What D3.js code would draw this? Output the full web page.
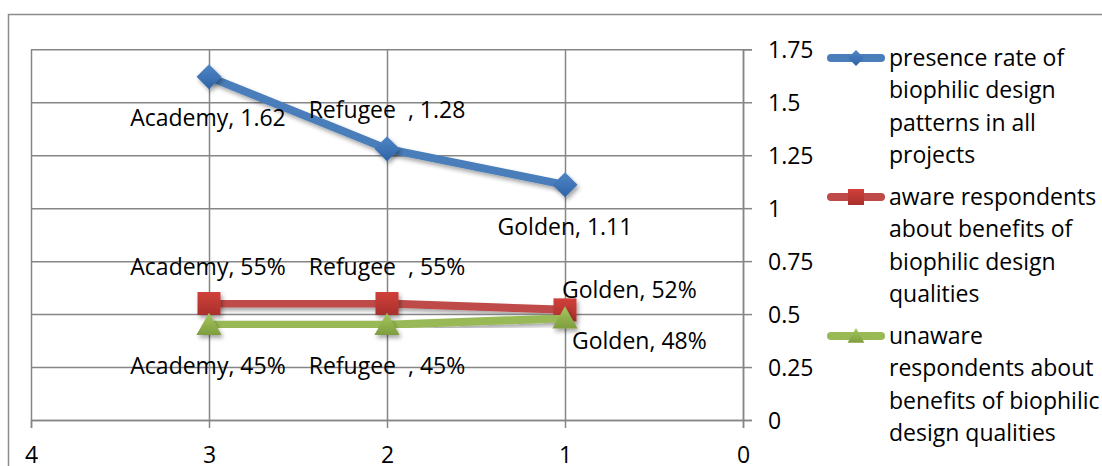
<!DOCTYPE html>
<html><head><meta charset="utf-8">
<script src="https://cdn.jsdelivr.net/npm/d3@7"></script>
<style>
body{margin:0;background:#fff;}
svg text{font-family:"Open Sans","Noto Sans",sans-serif;fill:#000;white-space:pre;}
</style></head>
<body><svg id="chart" width="1102" height="466"></svg>
<script>
const projects = ["Academy", "Refugee  ", "Golden"];
const xValues = [3, 2, 1];
const presenceRate = [1.62, 1.28, 1.11];
const awareShare = [0.55, 0.55, 0.52];
const unawareShare = [0.45, 0.45, 0.48];
const xTicks = [4, 3, 2, 1, 0];
const yTicks = [0, 0.25, 0.5, 0.75, 1, 1.25, 1.5, 1.75];
const seriesNames = [
  ["presence rate of", "biophilic design", "patterns in all", "projects"],
  ["aware respondents", "about benefits of", "biophilic design", "qualities"],
  ["unaware", "respondents about", "benefits of biophilic", "design qualities"]
];

const svg = d3.select("#chart");
const FS = 23;
const L = 31, R = 743, T = 49.3, B = 420;
const x = d3.scaleLinear().domain([4, 0]).range([L, R]);
const y = d3.scaleLinear().domain([0, 1.75]).range([B, T]);

// outer border
svg.append("rect").attr("x", 8.5).attr("y", 14.5).attr("width", 1100).attr("height", 470)
  .attr("fill", "#fff").attr("stroke", "#8c8c8c").attr("stroke-width", 1.5);

const defs = svg.append("defs");
const f = defs.append("filter").attr("id", "sh").attr("x", "-50%").attr("y", "-50%").attr("width", "200%").attr("height", "200%");
f.append("feDropShadow").attr("dx", 2).attr("dy", 3).attr("stdDeviation", 2).attr("flood-color", "#000").attr("flood-opacity", 0.35);

const colors = [
  {line: "#4a7ebb", top: "#4f86c6", bot: "#2f63a6"},
  {line: "#be4b48", top: "#d1403a", bot: "#a8302c"},
  {line: "#98b954", top: "#a5c75e", bot: "#7f9d3e"}
];
colors.forEach((c, i) => {
  const g = defs.append("linearGradient").attr("id", "g" + i).attr("x1", 0).attr("y1", 0).attr("x2", 0).attr("y2", 1);
  g.append("stop").attr("offset", "0%").attr("stop-color", c.top);
  g.append("stop").attr("offset", "100%").attr("stop-color", c.bot);
});

// gridlines
const gridX = svg.append("g").attr("transform", `translate(0,${B})`)
  .call(d3.axisBottom(x).tickValues(xTicks).tickSize(-(B - T)).tickFormat(""));
const gridY = svg.append("g").attr("transform", `translate(${R},0)`)
  .call(d3.axisRight(y).tickValues(yTicks).tickSize(-(R - L)).tickFormat(""));
[gridX, gridY].forEach(g => {
  g.select(".domain").remove();
  g.selectAll("line").attr("stroke", "#868686").attr("stroke-width", 1.5);
});

// axes with outer ticks + labels
const ax = svg.append("g").attr("transform", `translate(0,${B})`)
  .call(d3.axisBottom(x).tickValues(xTicks).tickSize(8).tickPadding(16).tickFormat(d => String(d)));
const ay = svg.append("g").attr("transform", `translate(${R},0)`)
  .call(d3.axisRight(y).tickValues(yTicks).tickSize(9).tickPadding(16).tickFormat(d => String(d)));
[ax, ay].forEach(g => {
  g.select(".domain").attr("stroke", "#868686").attr("stroke-width", 1.5);
  g.selectAll("line").attr("stroke", "#868686").attr("stroke-width", 1.5);
  g.selectAll("text").attr("font-size", FS).attr("font-family", null).attr("fill", "#000");
});
ax.selectAll("text").attr("dy", null).attr("y", 42.5);
ay.selectAll("text").attr("dy", "0.35em");

const series = [presenceRate, awareShare, unawareShare];
const line = d3.line().x((d, i) => x(xValues[i])).y(d => y(d));

function marker(g, type, cx, cy, s, fill) {
  if (type === 0) {
    g.append("path").attr("d", `M${cx},${cy - s}L${cx + s},${cy}L${cx},${cy + s}L${cx - s},${cy}Z`).attr("fill", fill);
  } else if (type === 1) {
    g.append("rect").attr("x", cx - s).attr("y", cy - s).attr("width", 2 * s).attr("height", 2 * s).attr("fill", fill);
  } else {
    g.append("path").attr("d", `M${cx},${cy - s}L${cx + s * 1.05},${cy + s * 0.85}L${cx - s * 1.05},${cy + s * 0.85}Z`).attr("fill", fill);
  }
}

series.forEach((vals, si) => {
  const g = svg.append("g");
  g.append("path").datum(vals).attr("d", line).attr("fill", "none")
    .attr("stroke", colors[si].line).attr("stroke-width", 8).attr("stroke-linejoin", "round").attr("filter", "url(#sh)");
  const sizes = [12.5, 11.5, 12];
  vals.forEach((v, i) => {
    const mg = g.append("g").attr("filter", "url(#sh)");
    marker(mg, si, x(xValues[i]), y(v), sizes[si], `url(#g${si})`);
  });
});

// data labels
const fmt = [d => String(d), d => Math.round(d * 100) + "%", d => Math.round(d * 100) + "%"];
const placement = [
  [["middle", -1, 41], ["middle", 0, -39], ["middle", 0, 42]],
  [["middle", -1, -37], ["middle", 0, -37], ["start", -3, -20]],
  [["middle", -1, 41], ["middle", 0, 41], ["start", 7, 23]]
];
series.forEach((vals, si) => {
  vals.forEach((v, i) => {
    const p = placement[si][i];
    svg.append("text").attr("x", x(xValues[i]) + p[1]).attr("y", y(v) + p[2])
      .attr("dy", "0.35em").attr("text-anchor", p[0]).attr("font-size", FS)
      .text(projects[i] + ", " + fmt[si](v));
  });
});

// legend
const legY = [58, 197, 336];
const lineGap = 32.3;
seriesNames.forEach((lines, si) => {
  const g = svg.append("g");
  const ly = legY[si];
  g.append("line").attr("x1", 831).attr("x2", 881).attr("y1", ly).attr("y2", ly)
    .attr("stroke", colors[si].line).attr("stroke-width", 8).attr("stroke-linecap", "round");
  marker(g, si, 856, ly, 8, `url(#g${si})`);
  const t = g.append("text").attr("x", 889).attr("y", ly).attr("font-size", FS);
  lines.forEach((s, k) => t.append("tspan").attr("x", 889).attr("y", ly + k * lineGap).attr("dy", "0.35em").text(s));
});
</script></body></html>
